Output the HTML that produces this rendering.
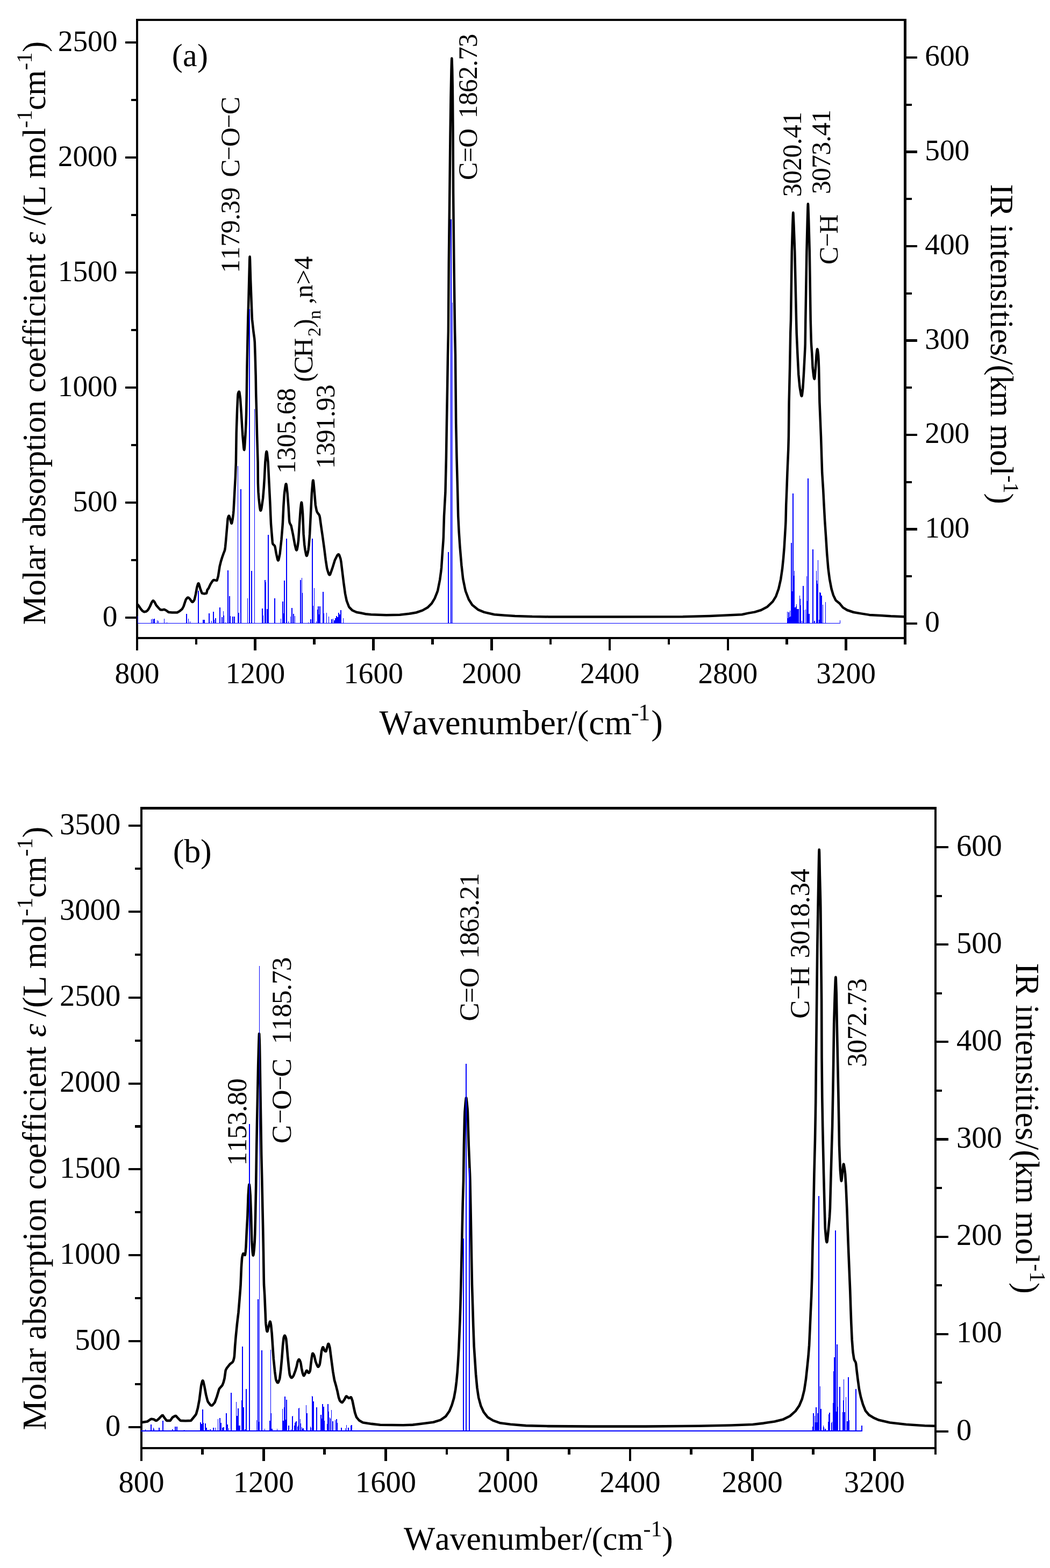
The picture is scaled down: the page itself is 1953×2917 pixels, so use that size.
<!DOCTYPE html>
<html lang="en"><head><meta charset="utf-8"><title>Calculated IR spectra</title>
<style>html,body{margin:0;padding:0;background:#fff;overflow:hidden;width:1953px;height:2917px}svg{display:block}text{font-family:"Liberation Serif", "Times New Roman", Times, serif;fill:#000;font-kerning:none;font-variant-ligatures:none;white-space:pre}</style>
</head><body>
<svg width="1953" height="2917" viewBox="0 0 1953 2917" text-rendering="geometricPrecision">
<rect x="0" y="0" width="1953" height="2917" fill="#fff"/>
<g id="panel-a">
<clipPath id="ca"><rect x="257" y="39" width="1424" height="1146"/></clipPath>
<path d="M255,1123.5 L258,1127 L262,1133 L264.75,1136.3 L265,1136.5 L267.75,1138.18 L268.5,1138.3 L272,1137.5 L274.25,1135.7 L276,1133.5 L279,1128 L282,1121 L284,1117.91 L284.5,1117.51 L284.9,1117.4 L285.5,1117.61 L287.5,1120 L290.6,1126.1 L295,1131 L298,1134.1 L299,1134.5 L302,1134.6 L305.4,1133.7 L309,1135.5 L313.5,1138.85 L314.3,1139.1 L320,1139.6 L329.6,1139.4 L334,1137 L338.5,1133.35 L338.8,1133 L341.5,1128 L343.4,1122.3 L345.5,1115.95 L346,1115 L348.5,1112.03 L349.5,1111.53 L349.8,1111.5 L350.75,1111.84 L353,1114 L356.75,1119.36 L357.5,1119.91 L357.9,1120 L358.75,1119.71 L361,1117 L361.75,1115.17 L364,1105.4 L366.25,1092.99 L366.5,1092 L368.25,1086.25 L368.75,1085.39 L369.1,1085.2 L369.5,1085.47 L370.25,1087.18 L372.4,1094.7 L375.25,1102.63 L376,1103.72 L376.3,1103.9 L380,1104.5 L383.9,1103.9 L384.25,1103.26 L385.5,1097.71 L385.7,1097.2 L387.8,1094.7 L391.5,1086.7 L394.5,1082 L396.5,1079.53 L397.4,1079.1 L400,1079.3 L403,1080.1 L403.25,1080 L403.75,1079.25 L405.8,1072 L408.7,1053.2 L411,1044 L413.5,1036 L416,1029 L417.75,1024.62 L418.3,1022.6 L419,1017.76 L420.2,1005.4 L422.5,978.6 L423.6,965.2 L424.75,961.07 L425.25,960.02 L425.75,959.53 L425.9,959.5 L426.25,959.75 L427,961.59 L428.5,967 L430,972.63 L430.5,973.69 L430.7,973.8 L431,973.52 L431.5,972.03 L432.8,965 L434,955.45 L434.5,949.9 L436.4,913.6 L437.8,888.7 L438.9,860 L439.7,804.9 L441.2,760.9 L442.25,738.12 L442.5,734.54 L442.8,732.2 L443.75,729.5 L444.25,728.73 L444.7,728.5 L445,728.83 L445.5,730.67 L447,741.8 L448.9,770.5 L451.2,808.7 L453.25,832.79 L453.75,835.98 L454,836.79 L454.2,837 L454.5,836.24 L455,832.11 L456.5,808.7 L457.5,788.47 L458.1,770.5 L458.8,732.2 L459.4,686.3 L460.4,636.5 L461.3,594.4 L462.3,560 L463.3,520 L464.25,482.59 L464.5,477.96 L464.6,477.5 L464.75,478.32 L465,482.81 L466.1,520 L467.6,560 L468.75,590.08 L469,594.4 L471.5,617.4 L473.25,630.11 L473.8,636.5 L474.7,663.3 L475.7,699.7 L476.2,732.2 L477.2,768.5 L478.1,808.7 L479.1,843.2 L479.6,860 L479.9,898.3 L480.5,915.45 L481.4,927 L483.25,944.39 L484,948.51 L484.25,949.31 L484.5,949.78 L484.7,949.9 L485,949.74 L485.5,948.83 L486.5,944.93 L489.1,927 L490.75,907.31 L491.9,888.7 L493.3,860 L494.75,844.55 L495.25,841.35 L495.5,840.41 L495.8,840 L496,840.15 L496.25,840.72 L496.75,843.03 L498.6,860 L500.5,898.3 L502.4,936.5 L504,974.8 L505.9,997.8 L506.75,1008.06 L507,1010.18 L507.2,1011.1 L508,1012.63 L510.5,1014.91 L511.1,1015.9 L511.75,1018.17 L513.9,1030.3 L516.25,1040.64 L516.75,1041.99 L517.25,1042.66 L517.4,1042.7 L517.75,1042.47 L518.25,1041.45 L520.6,1030.3 L523.5,1003.5 L525.8,974.8 L527.3,942.3 L528.75,919.97 L529.2,915.5 L531,903.08 L531.5,901.11 L531.75,900.52 L532.1,900.2 L532.25,900.3 L532.5,900.89 L533,903.38 L534.6,917.4 L536.5,942.3 L538,967.59 L538.4,971 L539.25,973.75 L541.25,977.4 L541.7,978.6 L544.9,993.9 L548.4,1013.1 L550.5,1021.75 L551,1023 L551.25,1023.39 L551.6,1023.6 L552,1023.28 L552.5,1022.03 L553.75,1015.65 L555.1,1005.4 L557,974.8 L558.9,948 L560,937.89 L560.5,935.12 L560.8,934.6 L561,934.83 L561.25,935.72 L562,941.66 L563.1,955.7 L564.6,993.9 L566.25,1013.49 L567.5,1022.6 L569.25,1031.67 L569.75,1033.27 L570,1033.77 L570.4,1034.1 L570.75,1033.91 L571.25,1033.02 L572.5,1028.39 L573.6,1022.6 L574.5,1015.13 L576.1,993.9 L578,955.7 L579.9,917.4 L581.5,897.83 L582,894.43 L582.25,893.64 L582.4,893.5 L582.5,893.57 L582.75,894.3 L583.25,897.73 L584.7,913.6 L586.75,938.45 L587,940.4 L588.75,949.46 L589.5,951.8 L591,954.48 L593.25,957.26 L594.3,959.5 L595,962.53 L597.2,978.6 L600,997.8 L602.9,1018.8 L605.8,1041.8 L608.25,1057.57 L608.6,1059 L611.25,1067.33 L612.25,1069.07 L612.75,1069.45 L613,1069.5 L613.5,1069.3 L614.25,1068.32 L618.2,1057.1 L622.75,1042.37 L623,1041.8 L627.25,1033.19 L628.75,1031.53 L629.7,1031.2 L630.25,1031.45 L631,1032.5 L633.5,1039.8 L634.5,1045.37 L636.4,1060.9 L639.2,1083.9 L642.1,1104.9 L644.75,1117.45 L645,1118.3 L648.75,1128.06 L649.8,1129.8 L655.25,1135.34 L655.5,1135.5 L663.2,1139 L670.8,1140.3 L680,1142.2 L690,1143.3 L718.7,1144.2 L743.6,1143.7 L760.8,1141.8 L774.2,1139.5 L785.7,1135.6 L795.2,1130.3 L802.9,1122.6 L808.6,1113.1 L813.5,1100.83 L814.4,1097.8 L818.2,1078.6 L820.5,1061.62 L821.1,1055.7 L823,1027 L824.5,1006.02 L824.9,998.3 L826,960 L828.4,916.2 L829.9,852.1 L830.9,788.1 L832,724 L833,660 L833.9,616.2 L834.8,488.1 L836.3,360 L837.5,250 L838.5,180 L839.5,130 L840,112.87 L840.3,108.5 L840.5,110.01 L841.2,130 L841.75,160.52 L842,180 L842.6,250 L843.1,360 L844.4,488.1 L846.1,616.2 L847,660 L847.6,724 L848.2,788.1 L849.5,852.1 L851.2,916.2 L852.2,960 L853.6,988.7 L855.5,1017.4 L858.4,1051.8 L861.2,1076.7 L865.5,1097.92 L866,1099.7 L871.8,1115 L878.25,1125.22 L878.5,1125.5 L889,1134.1 L900.5,1138.9 L919.6,1143.3 L938.7,1144.8 L957.9,1146 L990,1147.1 L1020,1147.4 L1150,1147.5 L1270,1147.3 L1320,1146 L1380,1143.3 L1391.9,1140.6 L1403.7,1138.6 L1415.6,1135 L1427.4,1128.7 L1437.3,1119.2 L1443.3,1109.3 L1448.2,1095.5 L1452.2,1077.7 L1455.1,1057.9 L1457.1,1038.2 L1458.7,1018.4 L1460.1,994.7 L1461.25,975.04 L1461.5,969 L1462.2,939.3 L1463.4,909.7 L1464.5,878 L1466.25,836.48 L1466.9,812 L1467.6,748 L1469.1,684 L1470.2,620 L1471,596 L1472.8,468 L1474.2,420 L1475,398.38 L1475.3,395.5 L1475.5,396.68 L1476.5,420 L1478.3,468 L1481.1,596 L1481.7,620 L1483.4,658.4 L1485.3,696.9 L1487.25,717.85 L1487.9,722.5 L1490,734.6 L1490.5,736.24 L1490.75,736.73 L1491.1,737 L1491.25,736.9 L1491.5,736.3 L1492,733.78 L1493.3,722.5 L1494.9,696.9 L1496.9,658.4 L1497.5,646.12 L1497.7,640 L1498.3,596 L1500.4,468 L1501.8,410 L1502.5,385.46 L1502.75,380.27 L1502.9,379.3 L1503,379.62 L1503.25,382.82 L1504.2,410 L1505.8,468 L1507.7,596 L1508.75,634.2 L1509,640 L1510.3,658.4 L1511.6,684 L1513.25,699.09 L1514,703.31 L1514.5,704.75 L1514.8,705 L1515,704.71 L1515.5,701.77 L1517,684 L1518.6,660 L1519.5,652.2 L1520,649.75 L1520.2,649.5 L1520.5,649.88 L1521,651.97 L1522,660 L1522.5,668.1 L1523.1,684 L1524.4,748 L1527,812 L1529.2,880 L1531.2,912 L1532.6,939.3 L1534.2,969 L1536.2,998.6 L1538.2,1030.3 L1540.5,1057.9 L1543.1,1077.7 L1546.5,1095.5 L1550,1107.4 L1554,1115.83 L1555,1117.2 L1561.9,1122.8 L1567.8,1130.1 L1575.7,1135 L1587.6,1139 L1601.4,1141.4 L1617.2,1143.9 L1637,1144.9 L1656.8,1146.3 L1683.5,1147.3" fill="none" stroke="#000" stroke-width="4.5" stroke-linejoin="round" stroke-linecap="butt" clip-path="url(#ca)"/>
<g fill="#000" shape-rendering="crispEdges">
<rect x="253" y="35" width="4" height="1153.9" fill="#000"/>
<rect x="1681.1" y="35" width="4.9" height="1153.9" fill="#000"/>
<rect x="253" y="35" width="1433" height="4.1" fill="#000"/>
<rect x="253" y="1184.8" width="1433" height="4.1" fill="#000"/>
<rect x="252.7" y="1188.9" width="4.6" height="20.8" fill="#000"/>
<rect x="362.58" y="1188.9" width="4.6" height="10" fill="#000"/>
<rect x="472.47" y="1188.9" width="4.6" height="20.8" fill="#000"/>
<rect x="582.35" y="1188.9" width="4.6" height="10" fill="#000"/>
<rect x="692.24" y="1188.9" width="4.6" height="20.8" fill="#000"/>
<rect x="802.12" y="1188.9" width="4.6" height="10" fill="#000"/>
<rect x="912.01" y="1188.9" width="4.6" height="20.8" fill="#000"/>
<rect x="1021.89" y="1188.9" width="4.6" height="10" fill="#000"/>
<rect x="1131.78" y="1188.9" width="4.6" height="20.8" fill="#000"/>
<rect x="1241.66" y="1188.9" width="4.6" height="10" fill="#000"/>
<rect x="1351.55" y="1188.9" width="4.6" height="20.8" fill="#000"/>
<rect x="1461.43" y="1188.9" width="4.6" height="10" fill="#000"/>
<rect x="1571.32" y="1188.9" width="4.6" height="20.8" fill="#000"/>
<rect x="1681.2" y="1188.9" width="4.6" height="10" fill="#000"/>
<rect x="233" y="1146.95" width="20" height="4.1" fill="#000"/>
<rect x="243.5" y="1039.95" width="9.5" height="4.1" fill="#000"/>
<rect x="233" y="932.95" width="20" height="4.1" fill="#000"/>
<rect x="243.5" y="825.95" width="9.5" height="4.1" fill="#000"/>
<rect x="233" y="718.95" width="20" height="4.1" fill="#000"/>
<rect x="243.5" y="611.95" width="9.5" height="4.1" fill="#000"/>
<rect x="233" y="504.95" width="20" height="4.1" fill="#000"/>
<rect x="243.5" y="397.95" width="9.5" height="4.1" fill="#000"/>
<rect x="233" y="290.95" width="20" height="4.1" fill="#000"/>
<rect x="243.5" y="183.95" width="9.5" height="4.1" fill="#000"/>
<rect x="233" y="76.95" width="20" height="4.1" fill="#000"/>
<rect x="1686" y="1157.95" width="20" height="4.1" fill="#000"/>
<rect x="1686" y="1070.2" width="9.5" height="4.1" fill="#000"/>
<rect x="1686" y="982.45" width="20" height="4.1" fill="#000"/>
<rect x="1686" y="894.7" width="9.5" height="4.1" fill="#000"/>
<rect x="1686" y="806.95" width="20" height="4.1" fill="#000"/>
<rect x="1686" y="719.2" width="9.5" height="4.1" fill="#000"/>
<rect x="1686" y="631.45" width="20" height="4.1" fill="#000"/>
<rect x="1686" y="543.7" width="9.5" height="4.1" fill="#000"/>
<rect x="1686" y="455.95" width="20" height="4.1" fill="#000"/>
<rect x="1686" y="368.2" width="9.5" height="4.1" fill="#000"/>
<rect x="1686" y="280.45" width="20" height="4.1" fill="#000"/>
<rect x="1686" y="192.7" width="9.5" height="4.1" fill="#000"/>
<rect x="1686" y="104.95" width="20" height="4.1" fill="#000"/>
</g>
<g fill="#0000ff" shape-rendering="crispEdges">
<rect x="255.5" y="1158.8" width="1307.5" height="1" fill="#0000ff"/>
<rect x="255.9" y="1146" width="1" height="13.8" fill="#0000ff"/>
<rect x="281.3" y="1152" width="1" height="7.8" fill="#0000ff"/>
<rect x="282.5" y="1151.3" width="1" height="8.5" fill="#0000ff"/>
<rect x="285" y="1151.5" width="1" height="8.3" fill="#0000ff"/>
<rect x="286.25" y="1151.3" width="1.5" height="8.5" fill="#0000ff"/>
<rect x="291.55" y="1154.4" width="1.5" height="5.4" fill="#0000ff"/>
<rect x="293.55" y="1155" width="1.5" height="4.8" fill="#0000ff"/>
<rect x="304.9" y="1151.3" width="1" height="8.5" fill="#0000ff"/>
<rect x="310" y="1158" width="1" height="1.8" fill="#0000ff"/>
<rect x="345.9" y="1142.1" width="2" height="17.7" fill="#0000ff"/>
<rect x="349.85" y="1151.3" width="1.5" height="8.5" fill="#0000ff"/>
<rect x="352.55" y="1156.2" width="1.5" height="3.6" fill="#0000ff"/>
<rect x="368.1" y="1099.3" width="2" height="60.5" fill="#0000ff"/>
<rect x="376.8" y="1153" width="2" height="6.8" fill="#0000ff"/>
<rect x="379" y="1152.5" width="2" height="7.3" fill="#0000ff"/>
<rect x="388" y="1141.4" width="2" height="18.4" fill="#0000ff"/>
<rect x="392.6" y="1155" width="1" height="4.8" fill="#0000ff"/>
<rect x="395.9" y="1138.3" width="2" height="21.5" fill="#0000ff"/>
<rect x="398" y="1153" width="1" height="6.8" fill="#0000ff"/>
<rect x="400.35" y="1149.5" width="1.5" height="10.3" fill="#0000ff"/>
<rect x="407.9" y="1130.2" width="2" height="29.6" fill="#0000ff"/>
<rect x="411.7" y="1147.5" width="2" height="12.3" fill="#0000ff"/>
<rect x="414.85" y="1137.2" width="1.5" height="22.6" fill="#0000ff"/>
<rect x="416" y="1145" width="1" height="14.8" fill="#0000ff"/>
<rect x="418.9" y="1158" width="1" height="1.8" fill="#0000ff"/>
<rect x="423" y="1061" width="2" height="98.8" fill="#0000ff"/>
<rect x="426.1" y="1109.2" width="2" height="50.6" fill="#0000ff"/>
<rect x="427.45" y="1146" width="1.5" height="13.8" fill="#0000ff"/>
<rect x="432.15" y="1147" width="1.5" height="12.8" fill="#0000ff"/>
<rect x="434.7" y="1147" width="2" height="12.8" fill="#0000ff"/>
<rect x="442.1" y="867" width="1" height="292.8" fill="#0000ff"/>
<rect x="442.8" y="1140" width="2" height="19.8" fill="#0000ff"/>
<rect x="446.9" y="910" width="2" height="249.8" fill="#0000ff"/>
<rect x="460" y="1113" width="1" height="46.8" fill="#0000ff"/>
<rect x="462.8" y="575.3" width="2" height="584.5" fill="#0000ff"/>
<rect x="467.1" y="1062" width="2" height="97.8" fill="#0000ff"/>
<rect x="473" y="761" width="1" height="398.8" fill="#0000ff"/>
<rect x="487.35" y="1132.4" width="1.5" height="27.4" fill="#0000ff"/>
<rect x="488.9" y="1144.5" width="1" height="15.3" fill="#0000ff"/>
<rect x="491.9" y="1079.1" width="2" height="80.7" fill="#0000ff"/>
<rect x="493.7" y="1082.9" width="1" height="76.9" fill="#0000ff"/>
<rect x="496.35" y="1132.6" width="1.5" height="27.2" fill="#0000ff"/>
<rect x="497.8" y="994.9" width="2" height="164.9" fill="#0000ff"/>
<rect x="510.35" y="1112.5" width="1.5" height="47.3" fill="#0000ff"/>
<rect x="522" y="1150.8" width="1" height="9" fill="#0000ff"/>
<rect x="525.25" y="1119.2" width="1.5" height="40.6" fill="#0000ff"/>
<rect x="526.8" y="1141.2" width="1" height="18.6" fill="#0000ff"/>
<rect x="528.15" y="1080.4" width="1.5" height="79.4" fill="#0000ff"/>
<rect x="532.1" y="1002.2" width="2" height="157.6" fill="#0000ff"/>
<rect x="536.4" y="1155.6" width="1" height="4.2" fill="#0000ff"/>
<rect x="539.95" y="1147" width="1.5" height="12.8" fill="#0000ff"/>
<rect x="542.05" y="1131.3" width="1.5" height="28.5" fill="#0000ff"/>
<rect x="545.15" y="1142.2" width="1.5" height="17.6" fill="#0000ff"/>
<rect x="547.9" y="1146" width="1" height="13.8" fill="#0000ff"/>
<rect x="558.15" y="1078.5" width="1.5" height="81.3" fill="#0000ff"/>
<rect x="560.9" y="1075.2" width="1" height="84.6" fill="#0000ff"/>
<rect x="561.8" y="1103" width="1" height="56.8" fill="#0000ff"/>
<rect x="573.1" y="1157.5" width="1" height="2.3" fill="#0000ff"/>
<rect x="577.25" y="1151.8" width="1.5" height="8" fill="#0000ff"/>
<rect x="579.9" y="1002.2" width="2" height="157.6" fill="#0000ff"/>
<rect x="581.65" y="1126.9" width="1.5" height="32.9" fill="#0000ff"/>
<rect x="584" y="1093.8" width="1" height="66" fill="#0000ff"/>
<rect x="587.75" y="1155.6" width="1.5" height="4.2" fill="#0000ff"/>
<rect x="589.75" y="1133.6" width="1.5" height="26.2" fill="#0000ff"/>
<rect x="590.8" y="1127.9" width="2" height="31.9" fill="#0000ff"/>
<rect x="592.55" y="1143.2" width="1.5" height="16.6" fill="#0000ff"/>
<rect x="594.2" y="1127.9" width="2" height="31.9" fill="#0000ff"/>
<rect x="600.25" y="1101.1" width="1.5" height="58.7" fill="#0000ff"/>
<rect x="602" y="1141.2" width="1" height="18.6" fill="#0000ff"/>
<rect x="607" y="1140.3" width="1" height="19.5" fill="#0000ff"/>
<rect x="611" y="1147" width="1" height="12.8" fill="#0000ff"/>
<rect x="616.45" y="1151.8" width="1.5" height="8" fill="#0000ff"/>
<rect x="618.75" y="1150.8" width="1.5" height="9" fill="#0000ff"/>
<rect x="621.25" y="1153.7" width="1.5" height="6.1" fill="#0000ff"/>
<rect x="623.15" y="1149.9" width="1.5" height="9.9" fill="#0000ff"/>
<rect x="624.9" y="1146" width="2" height="13.8" fill="#0000ff"/>
<rect x="627" y="1148" width="2" height="11.8" fill="#0000ff"/>
<rect x="628.7" y="1140.3" width="2" height="19.5" fill="#0000ff"/>
<rect x="630.6" y="1143.2" width="2" height="16.6" fill="#0000ff"/>
<rect x="633.35" y="1134.5" width="1.5" height="25.3" fill="#0000ff"/>
<rect x="637.55" y="1150.4" width="1.5" height="9.4" fill="#0000ff"/>
<rect x="832.9" y="1027" width="2" height="132.8" fill="#0000ff"/>
<rect x="837.9" y="408" width="2" height="751.8" fill="#0000ff"/>
<rect x="840.7" y="563.3" width="1" height="596.5" fill="#0000ff"/>
<rect x="1463.9" y="1138" width="1" height="21.8" fill="#0000ff"/>
<rect x="1465" y="1150" width="1" height="9.8" fill="#0000ff"/>
<rect x="1466.25" y="1139" width="1.5" height="20.8" fill="#0000ff"/>
<rect x="1467.7" y="1148" width="1" height="11.8" fill="#0000ff"/>
<rect x="1469.1" y="1136" width="1" height="23.8" fill="#0000ff"/>
<rect x="1470" y="1147" width="1" height="12.8" fill="#0000ff"/>
<rect x="1470.9" y="1009.9" width="2" height="149.9" fill="#0000ff"/>
<rect x="1472.3" y="1100.4" width="2" height="59.4" fill="#0000ff"/>
<rect x="1474.1" y="918" width="2" height="241.8" fill="#0000ff"/>
<rect x="1475.75" y="1070.8" width="1.5" height="89" fill="#0000ff"/>
<rect x="1477.2" y="1061.9" width="1" height="97.9" fill="#0000ff"/>
<rect x="1477.8" y="1130" width="2" height="29.8" fill="#0000ff"/>
<rect x="1479.5" y="1128" width="2" height="31.8" fill="#0000ff"/>
<rect x="1480.65" y="1124.2" width="1.5" height="35.6" fill="#0000ff"/>
<rect x="1482.05" y="1133" width="1.5" height="26.8" fill="#0000ff"/>
<rect x="1484.05" y="1133" width="1.5" height="26.8" fill="#0000ff"/>
<rect x="1486.9" y="1108" width="1" height="51.8" fill="#0000ff"/>
<rect x="1488.2" y="1114.3" width="1" height="45.5" fill="#0000ff"/>
<rect x="1489.2" y="1126.1" width="1" height="33.7" fill="#0000ff"/>
<rect x="1491" y="1154.8" width="1" height="5" fill="#0000ff"/>
<rect x="1492.9" y="1090" width="2" height="69.8" fill="#0000ff"/>
<rect x="1495" y="1135" width="1" height="24.8" fill="#0000ff"/>
<rect x="1497.85" y="1134" width="1.5" height="25.8" fill="#0000ff"/>
<rect x="1499.9" y="1071.8" width="1" height="88" fill="#0000ff"/>
<rect x="1500.85" y="1118.2" width="1.5" height="41.6" fill="#0000ff"/>
<rect x="1502" y="890.3" width="2" height="269.5" fill="#0000ff"/>
<rect x="1504" y="1142" width="2" height="17.8" fill="#0000ff"/>
<rect x="1510.9" y="1022" width="2" height="137.8" fill="#0000ff"/>
<rect x="1514.05" y="1155.2" width="1.5" height="4.6" fill="#0000ff"/>
<rect x="1517.9" y="1061.9" width="1" height="97.9" fill="#0000ff"/>
<rect x="1519.1" y="1079.7" width="1" height="80.1" fill="#0000ff"/>
<rect x="1520.1" y="1085.6" width="1" height="74.2" fill="#0000ff"/>
<rect x="1521.1" y="1042.1" width="1" height="117.7" fill="#0000ff"/>
<rect x="1523.2" y="1152.8" width="1" height="7" fill="#0000ff"/>
<rect x="1524.25" y="1102.4" width="1.5" height="57.4" fill="#0000ff"/>
<rect x="1525.5" y="1103.4" width="1" height="56.4" fill="#0000ff"/>
<rect x="1527.15" y="1108.4" width="1.5" height="51.4" fill="#0000ff"/>
<rect x="1530.2" y="1125.2" width="1" height="34.6" fill="#0000ff"/>
<rect x="1535.1" y="1119.8" width="1" height="40" fill="#0000ff"/>
<rect x="1562" y="1153.8" width="1" height="6" fill="#0000ff"/>
</g>
<g font-size="55.4">
<text x="255" y="1270.9" text-anchor="middle">800</text>
<text x="474.77" y="1270.9" text-anchor="middle">1200</text>
<text x="694.54" y="1270.9" text-anchor="middle">1600</text>
<text x="914.31" y="1270.9" text-anchor="middle">2000</text>
<text x="1134.08" y="1270.9" text-anchor="middle">2400</text>
<text x="1353.85" y="1270.9" text-anchor="middle">2800</text>
<text x="1573.62" y="1270.9" text-anchor="middle">3200</text>
<text x="218.5" y="1165.3" text-anchor="end">0</text>
<text x="218.5" y="951.3" text-anchor="end">500</text>
<text x="218.5" y="737.3" text-anchor="end">1000</text>
<text x="218.5" y="523.3" text-anchor="end">1500</text>
<text x="218.5" y="309.3" text-anchor="end">2000</text>
<text x="218.5" y="95.3" text-anchor="end">2500</text>
<text x="1720.2" y="1175.3">0</text>
<text x="1720.2" y="999.8">100</text>
<text x="1720.2" y="824.3">200</text>
<text x="1720.2" y="648.8">300</text>
<text x="1720.2" y="473.3">400</text>
<text x="1720.2" y="297.8">500</text>
<text x="1720.2" y="122.3">600</text>
</g>
<text xml:space="preserve"><tspan x="319.84 340.04 366.88" y="122.6" font-size="60">(a)</tspan></text>
<text transform="rotate(-90)" xml:space="preserve"><tspan x="-507.71 -483.25 -458.79 -434.32 -409.76 -397.63 -373.26 -345.31 -329.62" y="444.6" font-size="49.7">1179.39 C</tspan><tspan x="-298.19" y="440.9" font-size="46">−</tspan><tspan x="-272.9" y="444.6" font-size="49.7">O</tspan><tspan x="-238.49" y="440.9" font-size="46">−</tspan><tspan x="-212.95" y="444.6" font-size="49.7">C</tspan></text>
<text transform="rotate(-90)" xml:space="preserve"><tspan x="-881.21 -856.77 -832.32 -807.89 -783.34 -771.23 -746.78" y="549" font-size="49.7">1305.68</tspan></text>
<text transform="rotate(-90)" xml:space="preserve"><tspan x="-871.99 -848.04 -824.09 -800.19 -776 -764.25 -740.33" y="622.3" font-size="49.7">1391.93</tspan></text>
<text transform="rotate(-90)" xml:space="preserve"><tspan x="-710.42 -695.57 -664.83" y="581.2" font-size="49.7">(CH</tspan><tspan x="-626.11" y="595.6" font-size="34">2</tspan><tspan x="-609.83" y="581.2" font-size="49.7">)</tspan><tspan x="-594.03" y="595.6" font-size="34">n</tspan><tspan x="-577.61 -565.64 -554.37 -529.49 -501.62" y="581.2" font-size="49.7"> ,n&gt;4</tspan></text>
<text transform="rotate(-90)" xml:space="preserve"><tspan x="-334.95 -302.04 -274.85 -236.2 -220.23 -196.12 -172.03 -147.92 -123.64 -111.81 -87.7" y="887.1" font-size="49.7">C=O 1862.73</tspan></text>
<text transform="rotate(-90)" xml:space="preserve"><tspan x="-366.13 -341.89 -317.65 -293.42 -269.03 -257.07 -232.85" y="1489.8" font-size="49.7">3020.41</tspan></text>
<text transform="rotate(-90)" xml:space="preserve"><tspan x="-361 -336.94 -312.91 -288.82 -264.56 -252.73 -228.69" y="1544.4" font-size="49.7">3073.41</tspan></text>
<text transform="rotate(-90)" xml:space="preserve"><tspan x="-492.12" y="1558" font-size="49.7">C</tspan><tspan x="-459.14" y="1554.3" font-size="46">−</tspan><tspan x="-434.73" y="1558" font-size="49.7">H</tspan></text>
<text transform="rotate(-90)" xml:space="preserve"><tspan x="-1162.26 -1108.55 -1078.35 -1061.65 -1034.86 -1014.76 -999.74 -972.98 -942.81 -919.38 -889.19 -869.15 -838.95 -822.2 -805.5 -775.36 -745.15 -730.13 -703.38 -673.22 -646.44 -626.36 -606.26 -589.55 -562.75 -546.04 -519.29 -489.09 -472.33" y="84.2" font-size="60.8">Molar absorption coefficient </tspan><tspan x="-455.4" y="84.2" font-size="60.8" font-style="italic">ε</tspan><tspan x="-431.63 -418.85 -402.98 -382.27 -345.91 -332.33 -285.26 -254.95" y="84.2" font-size="60.8"> /(L mol</tspan><tspan x="-238.06 -224.69" y="59" font-size="40.5">-1</tspan><tspan x="-205.01 -177.66" y="84.2" font-size="60.8">cm</tspan><tspan x="-130.46 -117.44" y="59" font-size="40.5">-1</tspan><tspan x="-97.02" y="84.2" font-size="60.8">)</tspan></text>
<text transform="rotate(90)" xml:space="preserve"><tspan x="342.52 362.46 402.74 417.78 434.43 464.59 481.27 507.96 538.09 561.55 578.27 595 611.67 638.4 661.86 678.56 698.55 728.56 775.54 790.43 837.33 867.5" y="-1843" font-size="60.8">IR intensities/(km mol</tspan><tspan x="884.24 897.55" y="-1866.8" font-size="40.5">-1</tspan><tspan x="917.6" y="-1843" font-size="60.8">)</tspan></text>
<text xml:space="preserve"><tspan x="705.5 766.65 795.36 827.73 856.54 889.1 921.68 972.32 1004.88 1033.78 1055.46 1073.57 1095.3 1124.28" y="1366.4" font-size="65">Wavenumber/(cm</tspan><tspan x="1174.05 1187.24" y="1340.2" font-size="44">-1</tspan><tspan x="1211.36" y="1366.4" font-size="65">)</tspan></text>
</g>
<g id="panel-b">
<clipPath id="cb"><rect x="265" y="1506" width="1473" height="1186"/></clipPath>
<path d="M263,2646.2 L264.6,2646 L274.1,2644.5 L280.75,2639.91 L281.8,2639.7 L286,2640.5 L289.75,2642.78 L290.4,2642.9 L292,2642.35 L296.1,2638.7 L301,2633.52 L302.4,2633 L303,2633.22 L306.7,2638.7 L309.5,2642.41 L310.25,2642.87 L310.5,2642.9 L316.2,2642.9 L316.75,2642.72 L320.75,2637.01 L321,2636.8 L325.25,2634.17 L326.7,2633.9 L327.5,2634.15 L331.5,2638.7 L335.25,2642.51 L336.3,2642.9 L345,2643.2 L354.5,2642.9 L355.5,2642.53 L360.2,2636.8 L364,2631.96 L365,2630.1 L367.9,2619.6 L370.8,2604.3 L372.7,2589 L374.25,2577.38 L374.6,2575.6 L376.25,2569.45 L376.75,2568.51 L377.1,2568.3 L377.5,2568.59 L378.25,2570.46 L380.3,2579.4 L383.2,2594.7 L386,2605.74 L387,2608.1 L391,2613.48 L392.75,2614.62 L393.7,2614.8 L395,2614.39 L399.4,2609.1 L403.3,2598.5 L407.5,2584.46 L408.1,2583.2 L413.25,2577.39 L413.8,2576.5 L415.75,2571.43 L417.6,2564.1 L419.5,2550.51 L419.9,2548.8 L421.75,2545.23 L423.4,2543.1 L428.1,2537.3 L432.25,2534.27 L432.9,2533.5 L434,2531.36 L435.25,2526.81 L435.8,2523.9 L436.25,2518.83 L437.1,2504.8 L438.7,2485.7 L441,2462.7 L443.5,2441.7 L445.4,2418.7 L446.9,2399.6 L447.6,2390 L448.9,2357.9 L450,2341.81 L450.4,2338.7 L451.5,2334.08 L452,2332.75 L452.5,2332.06 L452.7,2332 L453.25,2332.27 L455,2334.58 L455.6,2334.9 L455.75,2334.76 L456,2333.96 L456.75,2328.21 L457.5,2319.6 L458.8,2290.9 L460.4,2262.2 L461.7,2223.9 L462.75,2208.69 L463.25,2204.47 L463.5,2203.58 L463.6,2203.5 L463.75,2203.65 L464,2204.53 L464.5,2208.27 L465.7,2223.9 L467.1,2262.2 L468.25,2306.73 L468.4,2310 L469.75,2329.13 L470.25,2333.35 L470.5,2334.66 L470.75,2335.38 L470.9,2335.5 L471.25,2334.99 L471.75,2332.64 L472.75,2323.19 L473.7,2310 L474.25,2296.01 L475.1,2262.2 L476.2,2204.8 L477,2147.4 L478,2090 L479,2040 L480.2,1981 L481.2,1945 L481.75,1927.98 L482,1923.47 L482.1,1923 L482.25,1923.89 L482.75,1936.19 L483,1945 L483.6,1981 L484.5,2040 L485.3,2090 L486.2,2147.4 L487.1,2185.7 L488.1,2233.5 L489.1,2281.3 L490,2329.2 L490.75,2379.55 L491,2390 L492.2,2409.1 L493.4,2437.8 L494.25,2458.96 L494.5,2462.7 L495.75,2473.01 L496.25,2475.56 L496.75,2476.92 L497,2477.1 L497.25,2476.94 L497.75,2475.83 L499.9,2466.5 L501.75,2459.42 L502.25,2458.55 L502.4,2458.5 L502.75,2458.91 L503.5,2461.92 L504.2,2466 L505.6,2479.9 L507.2,2503.8 L508.8,2527.7 L511.2,2551.6 L513,2565.04 L513.6,2567.5 L515.25,2571.06 L516,2571.99 L516.7,2572.3 L517.25,2572.06 L518,2571.03 L519.9,2566 L520.5,2563.17 L522.3,2548.4 L524.2,2527.7 L526,2503.8 L527.5,2489.73 L527.9,2487.8 L528.75,2485.46 L529.25,2484.71 L529.5,2484.6 L530,2484.86 L530.75,2486.08 L531.9,2489.4 L532.25,2491.28 L533.5,2503.8 L535.1,2522.9 L537,2542 L538.5,2555.05 L539.1,2558 L540.75,2561.74 L541.5,2562.72 L542,2563.04 L542.3,2563.1 L543,2562.9 L544.75,2561.05 L546.2,2558.8 L549.4,2550 L551.8,2542 L553.5,2533.78 L553.9,2532.5 L555.25,2529.69 L555.75,2529.13 L556.1,2529 L556.5,2529.13 L557.25,2530 L559,2534.1 L559.75,2537.77 L560.9,2545.2 L562.75,2553.99 L563,2554.8 L564.25,2558.28 L564.75,2559.11 L565.1,2559.3 L565.5,2559.12 L567.8,2554.8 L569.75,2550.4 L570.25,2549.79 L570.5,2549.7 L571,2549.93 L573.5,2553.68 L574.1,2554 L574.75,2553.74 L575.75,2552.42 L576.8,2550 L577.25,2547.24 L578.1,2538.9 L579.7,2526.1 L581,2519.02 L581.25,2518.24 L581.6,2517.8 L582,2517.92 L582.75,2518.67 L584.2,2521.3 L585,2523.93 L586.9,2532.5 L589.3,2538.9 L591,2542.29 L591.5,2542.75 L591.7,2542.8 L592.25,2542.59 L593.25,2541.33 L594.4,2538.9 L595,2536.48 L596.5,2526.1 L598.1,2513.3 L599.75,2507.55 L600.25,2506.59 L600.5,2506.32 L600.8,2506.2 L601,2506.28 L601.5,2507.05 L603.25,2511.96 L603.6,2512.5 L605.25,2513.89 L606,2514.1 L606.25,2513.95 L606.75,2512.93 L608.4,2507 L610.25,2500.47 L610.5,2500.01 L610.8,2499.8 L611.25,2500.07 L612,2501.57 L613.5,2507 L615.1,2519.7 L617.2,2535.7 L619.3,2551.6 L622,2567.5 L625.2,2578.7 L627.6,2588.3 L629.9,2599.4 L631.75,2604.86 L632.3,2605.8 L634.75,2608.4 L636,2608.98 L636.3,2609 L637,2608.75 L640.3,2604.2 L643.25,2598.36 L644,2597.58 L644.3,2597.5 L645.25,2597.86 L648.25,2600.71 L649.1,2601 L652.5,2599.41 L652.7,2599.4 L653,2599.51 L653.5,2600.15 L655.5,2605.8 L657.8,2617 L660.2,2628.1 L662.75,2635.63 L663.4,2636.9 L667.75,2642.14 L668.2,2642.5 L675,2646.39 L675.4,2646.5 L691.3,2648.9 L707.3,2650.8 L750,2651.3 L767.8,2650.6 L787,2648.3 L806.1,2645.8 L819.5,2641.6 L829.1,2634.9 L835.8,2625.3 L840.5,2613.9 L844.4,2600.5 L847.2,2585.2 L849.1,2569.8 L850.7,2552.6 L852,2533.5 L853.4,2508.6 L854.3,2485.7 L855.5,2457 L856.4,2428.3 L857.4,2390 L860.7,2240 L862,2196.2 L862.9,2132.1 L864,2081.68 L864.5,2068.1 L865.8,2052 L866.75,2043.39 L867,2042.4 L867.1,2042.3 L867.25,2042.49 L867.5,2043.52 L868.5,2052 L869.5,2062.2 L869.9,2068.1 L871.8,2132.1 L874,2183.71 L874.4,2196.2 L875.3,2240 L878,2390 L879.2,2428.3 L880.3,2466.5 L881.7,2504.8 L883.6,2533.5 L885.1,2556.5 L887.4,2581.3 L890,2599 L890.3,2600.5 L894.5,2615.8 L899.8,2627.2 L907,2636.37 L907.5,2636.8 L917.1,2642.6 L930.5,2647.3 L949.6,2649.8 L978.3,2652.1 L1020,2653.1 L1100,2653.6 L1200,2653.6 L1300,2652.8 L1360,2651.5 L1400,2650 L1420.4,2647.6 L1440.8,2644.5 L1457.1,2640.4 L1469.4,2634.3 L1479.6,2625.1 L1486.7,2614.9 L1491.8,2602.7 L1495.9,2586.3 L1499,2565.9 L1501.4,2543.5 L1503.5,2523.1 L1505.1,2502.7 L1506.5,2472 L1507.8,2441.4 L1509.2,2410.8 L1510.3,2376.2 L1511.6,2312.1 L1513.2,2248.1 L1514.4,2184 L1516,2120 L1517.2,2050 L1518,1968 L1519.3,1850 L1520.3,1760 L1521.5,1688 L1522.5,1630 L1523.25,1591.05 L1523.5,1582.82 L1523.7,1580.5 L1524,1585.91 L1524.9,1630 L1526,1672.38 L1526.3,1688 L1527.6,1816 L1528.1,1860 L1528.5,1968.1 L1529.25,2041.57 L1530.2,2096.2 L1530.9,2130 L1532.1,2184 L1533.7,2248.1 L1534.75,2283.8 L1534.9,2286.5 L1536.5,2304.93 L1537.25,2309.62 L1537.5,2310.47 L1537.75,2310.92 L1537.9,2311 L1538.25,2310.48 L1538.75,2308.16 L1541,2286.5 L1543,2263.74 L1543.9,2248.1 L1545.6,2184 L1547.1,2130 L1548.1,2096 L1549.3,2032.1 L1550.3,1968.1 L1551.2,1904 L1552.8,1850 L1553.75,1825.47 L1554,1820.94 L1554.25,1818.27 L1554.4,1817.8 L1554.5,1818.04 L1554.75,1820.58 L1555.8,1850 L1556.7,1904 L1558,1968.1 L1559.3,2032.1 L1560.5,2096.2 L1561,2130 L1561.8,2152 L1562.9,2177.6 L1564.25,2193.73 L1564.75,2196.6 L1565,2197 L1565.25,2196.48 L1565.75,2192.96 L1567,2180 L1568.5,2167.44 L1568.75,2166.2 L1569,2165.56 L1569.1,2165.5 L1569.25,2165.6 L1569.5,2166.16 L1571,2175 L1572.1,2184 L1573.5,2206.79 L1575.3,2248.1 L1577.6,2312.1 L1580.2,2376.2 L1581.2,2400.6 L1582.2,2431.2 L1583.3,2461.8 L1584.7,2492.4 L1586.25,2512.84 L1586.7,2516.9 L1588.25,2527.02 L1588.8,2529.2 L1589.75,2531.31 L1591,2533.22 L1591.8,2535.3 L1592.25,2537.89 L1593.5,2549.6 L1595.5,2565.9 L1598,2584.3 L1601,2598.6 L1605.1,2612.9 L1609.75,2624.34 L1610.2,2625.1 L1616.3,2632.2 L1624.5,2637.3 L1634.7,2641.8 L1655.1,2646.5 L1685.7,2650 L1720,2652.2 L1740,2652.8" fill="none" stroke="#000" stroke-width="4.6" stroke-linejoin="round" stroke-linecap="butt" clip-path="url(#cb)"/>
<g fill="#000" shape-rendering="crispEdges">
<rect x="261" y="1500.9" width="4.05" height="1195" fill="#000"/>
<rect x="1738" y="1500.9" width="4" height="1195" fill="#000"/>
<rect x="261" y="1500.9" width="1481" height="5.1" fill="#000"/>
<rect x="261" y="2692" width="1481" height="3.9" fill="#000"/>
<rect x="260.6" y="2695.9" width="4.8" height="21.8" fill="#000"/>
<rect x="374.22" y="2695.9" width="4.8" height="10" fill="#000"/>
<rect x="487.83" y="2695.9" width="4.8" height="21.8" fill="#000"/>
<rect x="601.45" y="2695.9" width="4.8" height="10" fill="#000"/>
<rect x="715.06" y="2695.9" width="4.8" height="21.8" fill="#000"/>
<rect x="828.68" y="2695.9" width="4.8" height="10" fill="#000"/>
<rect x="942.29" y="2695.9" width="4.8" height="21.8" fill="#000"/>
<rect x="1055.91" y="2695.9" width="4.8" height="10" fill="#000"/>
<rect x="1169.52" y="2695.9" width="4.8" height="21.8" fill="#000"/>
<rect x="1283.14" y="2695.9" width="4.8" height="10" fill="#000"/>
<rect x="1396.75" y="2695.9" width="4.8" height="21.8" fill="#000"/>
<rect x="1510.37" y="2695.9" width="4.8" height="10" fill="#000"/>
<rect x="1623.98" y="2695.9" width="4.8" height="21.8" fill="#000"/>
<rect x="1737.6" y="2695.9" width="4.8" height="10" fill="#000"/>
<rect x="239" y="2652.95" width="22" height="4.1" fill="#000"/>
<rect x="250.7" y="2573.02" width="10.3" height="4.1" fill="#000"/>
<rect x="239" y="2493.09" width="22" height="4.1" fill="#000"/>
<rect x="250.7" y="2413.16" width="10.3" height="4.1" fill="#000"/>
<rect x="239" y="2333.24" width="22" height="4.1" fill="#000"/>
<rect x="250.7" y="2253.31" width="10.3" height="4.1" fill="#000"/>
<rect x="239" y="2173.38" width="22" height="4.1" fill="#000"/>
<rect x="250.7" y="2093.45" width="10.3" height="4.1" fill="#000"/>
<rect x="239" y="2013.52" width="22" height="4.1" fill="#000"/>
<rect x="250.7" y="1933.59" width="10.3" height="4.1" fill="#000"/>
<rect x="239" y="1853.66" width="22" height="4.1" fill="#000"/>
<rect x="250.7" y="1773.74" width="10.3" height="4.1" fill="#000"/>
<rect x="239" y="1693.81" width="22" height="4.1" fill="#000"/>
<rect x="250.7" y="1613.88" width="10.3" height="4.1" fill="#000"/>
<rect x="239" y="1533.95" width="22" height="4.1" fill="#000"/>
<rect x="1742" y="2660.95" width="22" height="4.1" fill="#000"/>
<rect x="1742" y="2570.37" width="10.3" height="4.1" fill="#000"/>
<rect x="1742" y="2479.78" width="22" height="4.1" fill="#000"/>
<rect x="1742" y="2389.2" width="10.3" height="4.1" fill="#000"/>
<rect x="1742" y="2298.62" width="22" height="4.1" fill="#000"/>
<rect x="1742" y="2208.03" width="10.3" height="4.1" fill="#000"/>
<rect x="1742" y="2117.45" width="22" height="4.1" fill="#000"/>
<rect x="1742" y="2026.87" width="10.3" height="4.1" fill="#000"/>
<rect x="1742" y="1936.28" width="22" height="4.1" fill="#000"/>
<rect x="1742" y="1845.7" width="10.3" height="4.1" fill="#000"/>
<rect x="1742" y="1755.12" width="22" height="4.1" fill="#000"/>
<rect x="1742" y="1664.53" width="10.3" height="4.1" fill="#000"/>
<rect x="1742" y="1573.95" width="22" height="4.1" fill="#000"/>
</g>
<g fill="#0000ff" shape-rendering="crispEdges">
<rect x="262.1" y="2661" width="1341.8" height="2" fill="#0000ff"/>
<rect x="270.2" y="2659.4" width="1" height="3.6" fill="#0000ff"/>
<rect x="279.8" y="2650.2" width="2" height="12.8" fill="#0000ff"/>
<rect x="284.85" y="2656.3" width="1.5" height="6.7" fill="#0000ff"/>
<rect x="286.3" y="2658" width="1" height="5" fill="#0000ff"/>
<rect x="294.8" y="2656.3" width="2" height="6.7" fill="#0000ff"/>
<rect x="301.8" y="2642.6" width="2" height="20.4" fill="#0000ff"/>
<rect x="320.25" y="2659.4" width="1.5" height="3.6" fill="#0000ff"/>
<rect x="325.05" y="2654.4" width="1.5" height="8.6" fill="#0000ff"/>
<rect x="328.45" y="2653.5" width="1.5" height="9.5" fill="#0000ff"/>
<rect x="342.1" y="2660" width="1" height="3" fill="#0000ff"/>
<rect x="371.7" y="2646.4" width="2" height="16.6" fill="#0000ff"/>
<rect x="374.2" y="2649.3" width="2" height="13.7" fill="#0000ff"/>
<rect x="375.9" y="2621.5" width="2" height="41.5" fill="#0000ff"/>
<rect x="377.9" y="2647.3" width="1" height="15.7" fill="#0000ff"/>
<rect x="380.8" y="2648.3" width="2" height="14.7" fill="#0000ff"/>
<rect x="383.35" y="2656" width="1.5" height="7" fill="#0000ff"/>
<rect x="386.25" y="2660" width="1.5" height="3" fill="#0000ff"/>
<rect x="390.05" y="2659.4" width="1.5" height="3.6" fill="#0000ff"/>
<rect x="396" y="2656.3" width="2" height="6.7" fill="#0000ff"/>
<rect x="399.9" y="2656.3" width="1" height="6.7" fill="#0000ff"/>
<rect x="405.1" y="2640.3" width="1" height="22.7" fill="#0000ff"/>
<rect x="408" y="2637.8" width="2" height="25.2" fill="#0000ff"/>
<rect x="409.9" y="2647.3" width="2" height="15.7" fill="#0000ff"/>
<rect x="413.05" y="2655.6" width="1.5" height="7.4" fill="#0000ff"/>
<rect x="415.1" y="2655.2" width="2" height="7.8" fill="#0000ff"/>
<rect x="419.7" y="2629.2" width="2" height="33.8" fill="#0000ff"/>
<rect x="422" y="2650.2" width="2" height="12.8" fill="#0000ff"/>
<rect x="424.55" y="2656.9" width="1.5" height="6.1" fill="#0000ff"/>
<rect x="428.9" y="2591.3" width="2" height="71.7" fill="#0000ff"/>
<rect x="438.9" y="2608.1" width="1" height="54.9" fill="#0000ff"/>
<rect x="440" y="2633.9" width="2" height="29.1" fill="#0000ff"/>
<rect x="442.1" y="2620.2" width="2" height="42.8" fill="#0000ff"/>
<rect x="443.9" y="2652.1" width="3" height="10.9" fill="#0000ff"/>
<rect x="448.85" y="2605.2" width="1.5" height="57.8" fill="#0000ff"/>
<rect x="450.1" y="2505.4" width="2" height="157.6" fill="#0000ff"/>
<rect x="452" y="2618.1" width="2" height="44.9" fill="#0000ff"/>
<rect x="455.15" y="2658.8" width="1.5" height="4.2" fill="#0000ff"/>
<rect x="456.8" y="2584.2" width="2" height="78.8" fill="#0000ff"/>
<rect x="462.9" y="2091" width="2" height="572" fill="#0000ff"/>
<rect x="477" y="2642.2" width="1" height="20.8" fill="#0000ff"/>
<rect x="479" y="2417.2" width="2" height="245.8" fill="#0000ff"/>
<rect x="480.55" y="2645" width="1.5" height="18" fill="#0000ff"/>
<rect x="482" y="1797" width="1" height="866" fill="#0000ff"/>
<rect x="485.9" y="2512.4" width="2" height="150.6" fill="#0000ff"/>
<rect x="491.9" y="2658.2" width="1" height="4.8" fill="#0000ff"/>
<rect x="501.4" y="2642.6" width="2" height="20.4" fill="#0000ff"/>
<rect x="502.9" y="2511.1" width="1" height="151.9" fill="#0000ff"/>
<rect x="503.75" y="2629.2" width="1.5" height="33.8" fill="#0000ff"/>
<rect x="505.25" y="2657.9" width="1.5" height="5.1" fill="#0000ff"/>
<rect x="514.7" y="2658.2" width="1" height="4.8" fill="#0000ff"/>
<rect x="525" y="2621" width="1" height="42" fill="#0000ff"/>
<rect x="526.1" y="2642.5" width="2" height="20.5" fill="#0000ff"/>
<rect x="527.65" y="2618.3" width="1.5" height="44.7" fill="#0000ff"/>
<rect x="529" y="2597.8" width="2" height="65.2" fill="#0000ff"/>
<rect x="530.4" y="2640.9" width="2" height="22.1" fill="#0000ff"/>
<rect x="532" y="2604.2" width="2" height="58.8" fill="#0000ff"/>
<rect x="536" y="2652.1" width="2" height="10.9" fill="#0000ff"/>
<rect x="541" y="2659.2" width="1" height="3.8" fill="#0000ff"/>
<rect x="542.9" y="2635.3" width="1" height="27.7" fill="#0000ff"/>
<rect x="543.8" y="2634.2" width="1" height="28.8" fill="#0000ff"/>
<rect x="547.05" y="2652.1" width="1.5" height="10.9" fill="#0000ff"/>
<rect x="547.85" y="2647.3" width="1.5" height="15.7" fill="#0000ff"/>
<rect x="548.95" y="2645.7" width="1.5" height="17.3" fill="#0000ff"/>
<rect x="550" y="2644.1" width="2" height="18.9" fill="#0000ff"/>
<rect x="552.65" y="2653.7" width="1.5" height="9.3" fill="#0000ff"/>
<rect x="553.75" y="2652.1" width="1.5" height="10.9" fill="#0000ff"/>
<rect x="554.75" y="2620.2" width="1.5" height="42.8" fill="#0000ff"/>
<rect x="556.1" y="2619.4" width="1" height="43.6" fill="#0000ff"/>
<rect x="558.2" y="2640.1" width="1" height="22.9" fill="#0000ff"/>
<rect x="558.75" y="2648.1" width="1.5" height="14.9" fill="#0000ff"/>
<rect x="560.65" y="2655.2" width="1.5" height="7.8" fill="#0000ff"/>
<rect x="561.75" y="2657.6" width="1.5" height="5.4" fill="#0000ff"/>
<rect x="563.35" y="2656.8" width="1.5" height="6.2" fill="#0000ff"/>
<rect x="564.65" y="2660" width="1.5" height="3" fill="#0000ff"/>
<rect x="568.9" y="2614.1" width="1" height="48.9" fill="#0000ff"/>
<rect x="570" y="2629.3" width="2" height="33.7" fill="#0000ff"/>
<rect x="577.1" y="2654.4" width="1" height="8.6" fill="#0000ff"/>
<rect x="577.9" y="2656" width="1" height="7" fill="#0000ff"/>
<rect x="579.75" y="2597" width="1.5" height="66" fill="#0000ff"/>
<rect x="580.85" y="2597.8" width="1.5" height="65.2" fill="#0000ff"/>
<rect x="582.45" y="2606.6" width="1.5" height="56.4" fill="#0000ff"/>
<rect x="588" y="2618.3" width="2" height="44.7" fill="#0000ff"/>
<rect x="595.8" y="2632.1" width="2" height="30.9" fill="#0000ff"/>
<rect x="597.4" y="2639.3" width="2" height="23.7" fill="#0000ff"/>
<rect x="599" y="2612.2" width="2" height="50.8" fill="#0000ff"/>
<rect x="601" y="2617.3" width="2" height="45.7" fill="#0000ff"/>
<rect x="602.85" y="2642.5" width="1.5" height="20.5" fill="#0000ff"/>
<rect x="607.65" y="2648.9" width="1.5" height="14.1" fill="#0000ff"/>
<rect x="609" y="2612.2" width="2" height="50.8" fill="#0000ff"/>
<rect x="611.1" y="2626.2" width="1" height="36.8" fill="#0000ff"/>
<rect x="613" y="2637.4" width="1" height="25.6" fill="#0000ff"/>
<rect x="614" y="2638.5" width="1" height="24.5" fill="#0000ff"/>
<rect x="616" y="2623.3" width="1" height="39.7" fill="#0000ff"/>
<rect x="617.8" y="2644.1" width="2" height="18.9" fill="#0000ff"/>
<rect x="622.7" y="2642.2" width="1" height="20.8" fill="#0000ff"/>
<rect x="625" y="2640.1" width="2" height="22.9" fill="#0000ff"/>
<rect x="627.1" y="2646.5" width="1" height="16.5" fill="#0000ff"/>
<rect x="633.9" y="2656" width="2" height="7" fill="#0000ff"/>
<rect x="641.95" y="2656.8" width="1.5" height="6.2" fill="#0000ff"/>
<rect x="644" y="2651.3" width="1" height="11.7" fill="#0000ff"/>
<rect x="646.8" y="2656" width="2" height="7" fill="#0000ff"/>
<rect x="651.95" y="2652.1" width="1.5" height="10.9" fill="#0000ff"/>
<rect x="653" y="2651.3" width="2" height="11.7" fill="#0000ff"/>
<rect x="861.05" y="2304.1" width="1.9" height="358.9" fill="#0000ff"/>
<rect x="866.1" y="1979.1" width="1.8" height="683.9" fill="#0000ff"/>
<rect x="872.2" y="2173.1" width="1.8" height="489.9" fill="#0000ff"/>
<rect x="1511.05" y="2653.7" width="1.5" height="9.3" fill="#0000ff"/>
<rect x="1511.9" y="2629.2" width="2" height="33.8" fill="#0000ff"/>
<rect x="1514.8" y="2634.3" width="1" height="28.7" fill="#0000ff"/>
<rect x="1515.3" y="2645.5" width="2" height="17.5" fill="#0000ff"/>
<rect x="1517.05" y="2618.4" width="1.5" height="44.6" fill="#0000ff"/>
<rect x="1518.4" y="2645.5" width="2" height="17.5" fill="#0000ff"/>
<rect x="1520" y="2629.2" width="2" height="33.8" fill="#0000ff"/>
<rect x="1522.2" y="2225.3" width="2.2" height="437.7" fill="#0000ff"/>
<rect x="1524.55" y="2579.2" width="1.5" height="83.8" fill="#0000ff"/>
<rect x="1525.9" y="2621.4" width="2" height="41.6" fill="#0000ff"/>
<rect x="1531.1" y="2652.2" width="1" height="10.8" fill="#0000ff"/>
<rect x="1532.2" y="2654.7" width="1" height="8.3" fill="#0000ff"/>
<rect x="1534.35" y="2658.2" width="1.5" height="4.8" fill="#0000ff"/>
<rect x="1540.05" y="2644.5" width="1.5" height="18.5" fill="#0000ff"/>
<rect x="1541.05" y="2631.2" width="1.5" height="31.8" fill="#0000ff"/>
<rect x="1542.1" y="2628.2" width="2" height="34.8" fill="#0000ff"/>
<rect x="1546.4" y="2646.5" width="1" height="16.5" fill="#0000ff"/>
<rect x="1547.3" y="2645.1" width="1" height="17.9" fill="#0000ff"/>
<rect x="1548.85" y="2610.2" width="1.5" height="52.8" fill="#0000ff"/>
<rect x="1550.05" y="2550.6" width="1.5" height="112.4" fill="#0000ff"/>
<rect x="1551.2" y="2525.1" width="2" height="137.9" fill="#0000ff"/>
<rect x="1553.35" y="2289.1" width="1.5" height="373.9" fill="#0000ff"/>
<rect x="1554.5" y="2626.1" width="2" height="36.9" fill="#0000ff"/>
<rect x="1555.9" y="2501" width="2" height="162" fill="#0000ff"/>
<rect x="1557.9" y="2616.5" width="1" height="46.5" fill="#0000ff"/>
<rect x="1560.8" y="2580.2" width="2" height="82.8" fill="#0000ff"/>
<rect x="1567.05" y="2627.1" width="1.5" height="35.9" fill="#0000ff"/>
<rect x="1568.1" y="2605.1" width="1" height="57.9" fill="#0000ff"/>
<rect x="1568.9" y="2566.3" width="1" height="96.7" fill="#0000ff"/>
<rect x="1570.25" y="2627.1" width="1.5" height="35.9" fill="#0000ff"/>
<rect x="1573" y="2599.2" width="1" height="63.8" fill="#0000ff"/>
<rect x="1575.15" y="2643.5" width="1.5" height="19.5" fill="#0000ff"/>
<rect x="1577.25" y="2562.2" width="1.5" height="100.8" fill="#0000ff"/>
<rect x="1578.45" y="2642" width="1.5" height="21" fill="#0000ff"/>
<rect x="1590.8" y="2584.3" width="2" height="78.7" fill="#0000ff"/>
<rect x="1601.9" y="2652.2" width="2" height="10.8" fill="#0000ff"/>
</g>
<g font-size="56.6">
<text x="263" y="2776.4" text-anchor="middle">800</text>
<text x="490.23" y="2776.4" text-anchor="middle">1200</text>
<text x="717.46" y="2776.4" text-anchor="middle">1600</text>
<text x="944.69" y="2776.4" text-anchor="middle">2000</text>
<text x="1171.92" y="2776.4" text-anchor="middle">2400</text>
<text x="1399.15" y="2776.4" text-anchor="middle">2800</text>
<text x="1626.38" y="2776.4" text-anchor="middle">3200</text>
<text x="224.2" y="2670.6" text-anchor="end">0</text>
<text x="224.2" y="2510.74" text-anchor="end">500</text>
<text x="224.2" y="2350.89" text-anchor="end">1000</text>
<text x="224.2" y="2191.03" text-anchor="end">1500</text>
<text x="224.2" y="2031.17" text-anchor="end">2000</text>
<text x="224.2" y="1871.31" text-anchor="end">2500</text>
<text x="224.2" y="1711.46" text-anchor="end">3000</text>
<text x="224.2" y="1551.6" text-anchor="end">3500</text>
<text x="1779" y="2678.6">0</text>
<text x="1779" y="2497.43">100</text>
<text x="1779" y="2316.27">200</text>
<text x="1779" y="2135.1">300</text>
<text x="1779" y="1953.93">400</text>
<text x="1779" y="1772.77">500</text>
<text x="1779" y="1591.6">600</text>
</g>
<text xml:space="preserve"><tspan x="321.65 342.2 373.11" y="1604" font-size="62">(b)</tspan></text>
<text transform="rotate(-90)" xml:space="preserve"><tspan x="-2168.39 -2143.55 -2118.71 -2093.86 -2068.81 -2056.59 -2031.75" y="457.8" font-size="51.3">1153.80</tspan></text>
<text transform="rotate(-90)" xml:space="preserve"><tspan x="-2127.15" y="540.8" font-size="51.3">C</tspan><tspan x="-2090.47" y="536.9" font-size="47.5">−</tspan><tspan x="-2064.57" y="540.8" font-size="51.3">O</tspan><tspan x="-2028.47" y="536.9" font-size="47.5">−</tspan><tspan x="-2003.6 -1963.79 -1942.33 -1917.57 -1892.8 -1868.06 -1843.07 -1830.95 -1806.17" y="540.8" font-size="51.3">C 1185.73</tspan></text>
<text transform="rotate(-90)" xml:space="preserve"><tspan x="-1899.85 -1866.04 -1837.37 -1798.44 -1783.55 -1759.13 -1734.76 -1710.37 -1685.65 -1673.76 -1649.42" y="889.5" font-size="51.3">C=O 1863.21</tspan></text>
<text transform="rotate(-90)" xml:space="preserve"><tspan x="-1894.95" y="1505.1" font-size="51.3">C</tspan><tspan x="-1859.72" y="1501.2" font-size="47.5">−</tspan><tspan x="-1834.81 -1796.77 -1782.49 -1756.91 -1731.33 -1705.76 -1680.16 -1667.39 -1641.81" y="1505.1" font-size="51.3">H 3018.34</tspan></text>
<text transform="rotate(-90)" xml:space="preserve"><tspan x="-1984.9 -1959.59 -1934.29 -1908.97 -1883.58 -1871.02 -1845.7" y="1610.8" font-size="51.3">3072.73</tspan></text>
<text transform="rotate(-90)" xml:space="preserve"><tspan x="-2660.5 -2605 -2573.78 -2556.48 -2528.78 -2508 -2492.43 -2464.75 -2433.55 -2409.29 -2378.09 -2357.34 -2326.13 -2308.8 -2291.5 -2260.31 -2229.1 -2213.53 -2185.85 -2154.66 -2126.96 -2106.19 -2085.41 -2068.1 -2040.4 -2023.09 -1995.42 -1964.2 -1946.87" y="84.9" font-size="62.6">Molar absorption coefficient </tspan><tspan x="-1929.33" y="84.9" font-size="62.6" font-style="italic">ε</tspan><tspan x="-1904.76 -1891.55 -1875.11 -1853.65 -1816.09 -1801.96 -1753.31 -1721.99" y="84.9" font-size="62.6"> /(L mol</tspan><tspan x="-1704.5 -1690.62" y="60.3" font-size="41.5">-1</tspan><tspan x="-1670.3 -1641.96" y="84.9" font-size="62.6">cm</tspan><tspan x="-1593.19 -1579.67" y="60.3" font-size="41.5">-1</tspan><tspan x="-1558.6" y="84.9" font-size="62.6">)</tspan></text>
<text transform="rotate(90)" xml:space="preserve"><tspan x="1791.49 1812.15 1853.74 1869.29 1886.54 1917.7 1934.96 1962.58 1993.71 2017.96 2035.25 2052.54 2069.8 2097.43 2121.67 2138.95 2159.64 2190.71 2239.22 2254.68 2303.14 2334.3" y="-1889.7" font-size="62.6">IR intensities/(km mol</tspan><tspan x="2351.6 2365.32" y="-1915.8" font-size="41.5">-1</tspan><tspan x="2385.95" y="-1889.7" font-size="62.6">)</tspan></text>
<text xml:space="preserve"><tspan x="751.03 809.24 836.62 867.46 894.83 925.69 956.54 1004.53 1035.38 1062.77 1083.32 1100.46 1121.01 1148.39" y="2882.9" font-size="61.7">Wavenumber/(cm</tspan><tspan x="1196.39 1210.62" y="2858.2" font-size="42">-1</tspan><tspan x="1231.21" y="2882.9" font-size="61.7">)</tspan></text>
</g>
</svg></body></html>
